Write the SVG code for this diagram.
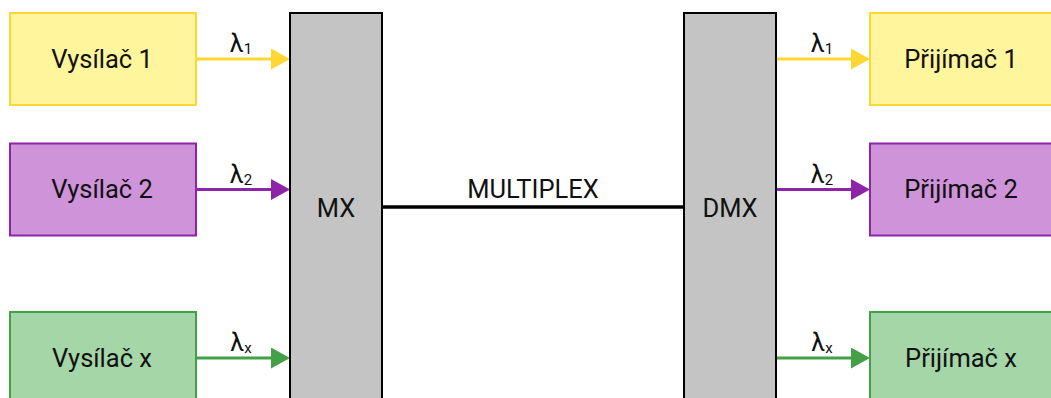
<svg xmlns="http://www.w3.org/2000/svg" width="1051" height="398" viewBox="0 0 1051 398">
<style>
text{font-family:Roboto,"Liberation Sans",sans-serif;fill:#111;text-anchor:middle}
.lbl{font-size:25.5px}
.lam{font-size:25px}
.sub{font-size:15px}
.yel{fill:#fff59d;stroke:#fdd835;stroke-width:2}
.pur{fill:#ce93d8;stroke:#8e24aa;stroke-width:2}
.grn{fill:#a5d6a7;stroke:#43a047;stroke-width:2}
.mux{fill:#c4c4c4;stroke:#000;stroke-width:2}
.cy{stroke:#fdd835;stroke-width:3;fill:none}
.cp{stroke:#8e24aa;stroke-width:3;fill:none}
.cg{stroke:#43a047;stroke-width:3;fill:none}
</style>
<defs>
<marker id="ay" markerUnits="userSpaceOnUse" markerWidth="19" markerHeight="21" refX="16" refY="10.5" orient="auto"><path d="M0,0 L19,10.5 L0,21 z" fill="#fdd835"/></marker>
<marker id="ap" markerUnits="userSpaceOnUse" markerWidth="19" markerHeight="21" refX="16" refY="10.5" orient="auto"><path d="M0,0 L19,10.5 L0,21 z" fill="#8e24aa"/></marker>
<marker id="ag" markerUnits="userSpaceOnUse" markerWidth="19" markerHeight="21" refX="16" refY="10.5" orient="auto"><path d="M0,0 L19,10.5 L0,21 z" fill="#43a047"/></marker>
</defs>
<rect width="1051" height="398" fill="#fff"/>
<g id="connectors">
<line class="cy" x1="196" y1="59" x2="287" y2="59" marker-end="url(#ay)"/>
<line class="cp" x1="196" y1="189.5" x2="287" y2="189.5" marker-end="url(#ap)"/>
<line class="cg" x1="196" y1="358" x2="287" y2="358" marker-end="url(#ag)"/>
<line x1="382" y1="207" x2="684" y2="207" stroke="#000" stroke-width="3.5"/>
<line class="cy" x1="776" y1="59" x2="867" y2="59" marker-end="url(#ay)"/>
<line class="cp" x1="776" y1="189.5" x2="867" y2="189.5" marker-end="url(#ap)"/>
<line class="cg" x1="776" y1="358" x2="867" y2="358" marker-end="url(#ag)"/>
<text class="lam" x="241" y="52">λ<tspan class="sub" dy="2">1</tspan></text>
<text class="lam" x="241" y="183">λ<tspan class="sub" dy="2">2</tspan></text>
<text class="lam" x="241" y="351">λ<tspan class="sub" dy="2">x</tspan></text>
<text class="lam" x="822" y="52">λ<tspan class="sub" dy="2">1</tspan></text>
<text class="lam" x="822" y="183">λ<tspan class="sub" dy="2">2</tspan></text>
<text class="lam" x="822" y="351">λ<tspan class="sub" dy="2">x</tspan></text>
<text class="lbl" x="533" y="198">MULTIPLEX</text>
</g>
<g id="tx1"><rect class="yel" x="10" y="13" width="186" height="92"/><text class="lbl" x="102" y="67.5">Vysílač 1</text></g>
<g id="tx2"><rect class="pur" x="10" y="143.5" width="186" height="92"/><text class="lbl" x="102" y="198">Vysílač 2</text></g>
<g id="txx"><rect class="grn" x="10" y="312" width="186" height="92"/><text class="lbl" x="102" y="366.5">Vysílač x</text></g>
<g id="mx"><rect class="mux" x="290" y="13" width="92" height="400"/><text class="lbl" x="336" y="217">MX</text></g>
<g id="dmx"><rect class="mux" x="684" y="13" width="92" height="400"/><text class="lbl" x="730" y="217">DMX</text></g>
<g id="rx1"><rect class="yel" x="870" y="13" width="186" height="92"/><text class="lbl" x="961" y="67.5">Přijímač 1</text></g>
<g id="rx2"><rect class="pur" x="870" y="143.5" width="186" height="92"/><text class="lbl" x="961" y="198">Přijímač 2</text></g>
<g id="rxx"><rect class="grn" x="870" y="312" width="186" height="92"/><text class="lbl" x="961" y="366.5">Přijímač x</text></g>
</svg>
